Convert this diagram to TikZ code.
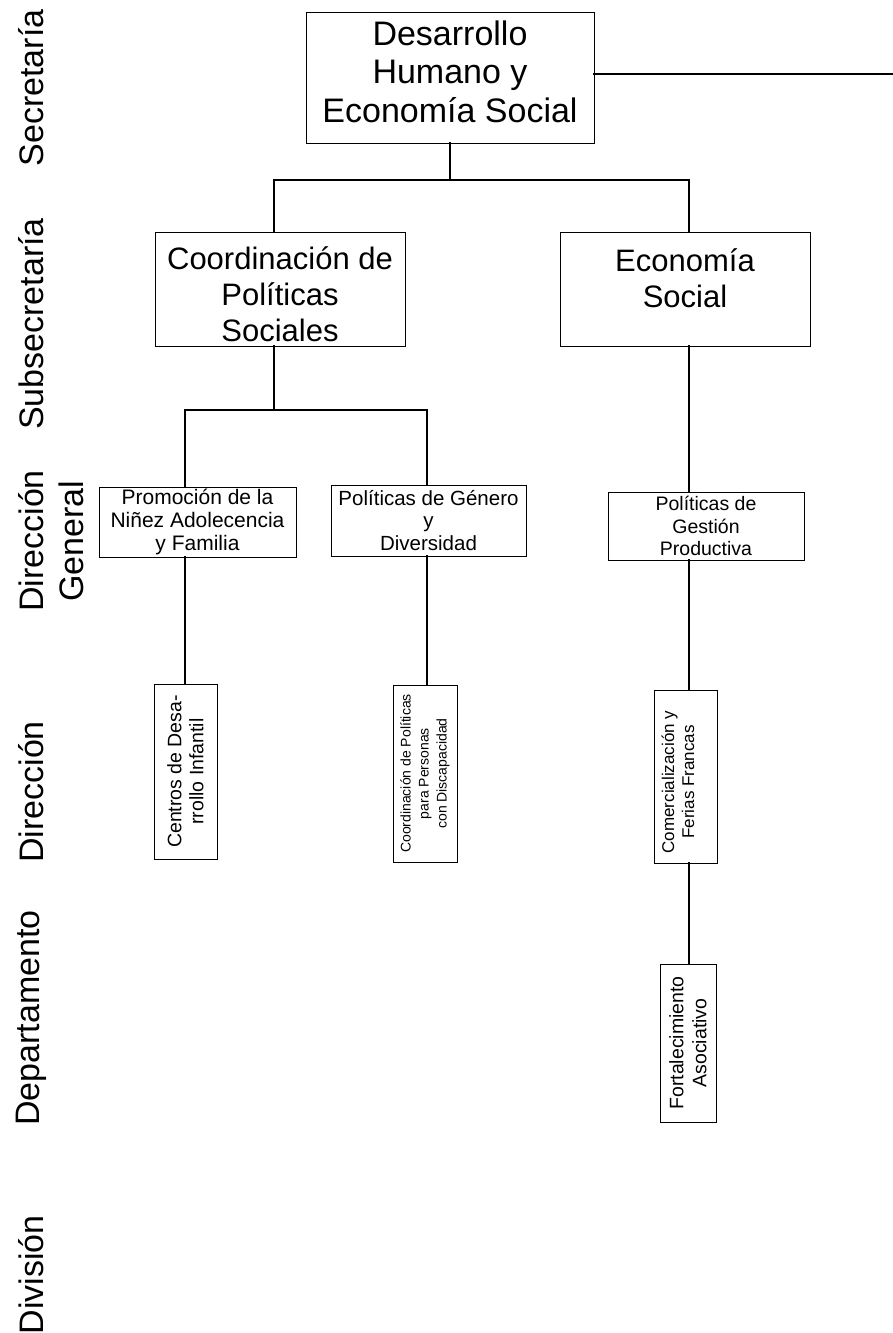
\documentclass[tikz,border=0pt]{standalone}
\usepackage{fontspec}
\setmainfont{Liberation Sans}
\begin{document}
\begin{tikzpicture}[x=1pt,y=-1pt,
  box/.style={draw, line width=0.9pt, inner sep=0pt, align=center},
  rbox/.style={box, rotate=90},
  txt/.style={inner sep=0pt, align=center},
  conn/.style={line width=2.1pt, line cap=rect},
  lab/.style={rotate=90, align=center, inner sep=0pt, font=\fontsize{34}{40}\selectfont}]
\useasboundingbox (0,0) rectangle (893,1333);

% level labels
\node[lab] (lsec) at (31,88) {Secretaría};
\node[lab] (lsub) at (31,324) {Subsecretaría};
\node[lab] (ldg) at (51,541) {Dirección\\General};
\node[lab] (ldir) at (31,792) {Dirección};
\node[lab] (ldep) at (31,1018) {Departamento};
\node[lab] (ldiv) at (31,1275) {División};

% boxes
\node[box, minimum width=288, minimum height=131] (sec) at (450,77.5) {};
\node[txt, font=\fontsize{34}{38.5}\selectfont] (sect) at (450,71.5) {Desarrollo\\Humano y\\Economía Social};
\node[box, minimum width=250, minimum height=114] (coord) at (280,289) {};
\node[txt, font=\fontsize{31}{36}\selectfont] (coordt) at (280,294) {Coordinación de\\Políticas\\Sociales};
\node[box, minimum width=250, minimum height=114] (econ) at (685,289) {};
\node[txt, font=\fontsize{31}{36}\selectfont] (econt) at (685,278) {Economía\\Social};
\node[box, minimum width=197, minimum height=70, font=\fontsize{21}{23}\selectfont] (prom) at (197.5,522) {Promoción de la\\Niñez Adolecencia\\y Familia};
\node[box, minimum width=195, minimum height=71, font=\fontsize{20.5}{22.5}\selectfont] (gen) at (428.5,520.5) {Políticas de Género\\y\\Diversidad};
\node[box, minimum width=196, minimum height=68, font=\fontsize{19.5}{22.5}\selectfont] (gest) at (706,526) {Políticas de\\Gestión\\Productiva};
\node[rbox, minimum width=175, minimum height=63, font=\fontsize{19.5}{22}\selectfont] (centros) at (185.5,771.5) {Centros de Desa-\\rrollo Infantil};
\node[rbox, minimum width=177, minimum height=64, font=\fontsize{14}{18}\selectfont] (cpol) at (425,773.5) {Coordinación de Políticas\\para Personas\\con Discapacidad};
\node[rbox, minimum width=173, minimum height=63] (comer) at (685.5,776.5) {};
\node[txt, rotate=90, font=\fontsize{17}{20}\selectfont] (comert) at (678,782) {Comercialización y\\Ferias Francas};
\node[rbox, minimum width=158, minimum height=56, font=\fontsize{19.5}{23}\selectfont] (fort) at (688,1043) {Fortalecimiento\\Asociativo};

% junction coordinates
\coordinate (rend) at (893,74);
\coordinate (j1) at (450,180);
\coordinate (j1l) at (274,180);
\coordinate (j1r) at (689,180);
\coordinate (j2) at (274,410);
\coordinate (j2l) at (185,410);
\coordinate (j2r) at (427,410);

% connectors
\draw[conn] (rend -| sec.east) -- (rend);
\draw[conn] (sec.south) -- (j1);
\draw[conn] (j1l) -- (j1r);
\draw[conn] (j1l) -- (j1l |- coord.north);
\draw[conn] (j1r) -- (j1r |- econ.north);
\draw[conn] (j2 |- coord.south) -- (j2);
\draw[conn] (j2l) -- (j2r);
\draw[conn] (j2l) -- (j2l |- prom.north);
\draw[conn] (j2r) -- (j2r |- gen.north);
\draw[conn] (j1r |- econ.south) -- (j1r |- gest.north);
\draw[conn] (j2l |- prom.south) -- (j2l |- centros.east);
\draw[conn] (j2r |- gen.south) -- (j2r |- cpol.east);
\draw[conn] (j1r |- gest.south) -- (j1r |- comer.east);
\draw[conn] (j1r |- comer.west) -- (j1r |- fort.east);
\end{tikzpicture}
\end{document}
